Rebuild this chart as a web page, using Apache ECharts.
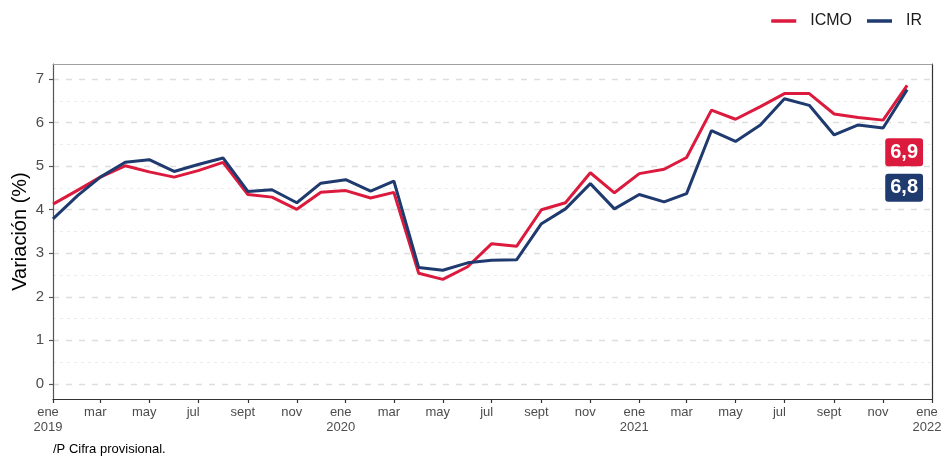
<!DOCTYPE html>
<html><head><meta charset="utf-8">
<script src="https://cdn.jsdelivr.net/npm/echarts@6/dist/echarts.min.js"></script>
<style>html,body{margin:0;padding:0;background:#fff}#c{width:943px;height:458px}</style>
</head><body><div id="c"></div>
<script>
const months = [
  '2019-01','2019-02','2019-03','2019-04','2019-05','2019-06','2019-07','2019-08','2019-09','2019-10','2019-11','2019-12',
  '2020-01','2020-02','2020-03','2020-04','2020-05','2020-06','2020-07','2020-08','2020-09','2020-10','2020-11','2020-12',
  '2021-01','2021-02','2021-03','2021-04','2021-05','2021-06','2021-07','2021-08','2021-09','2021-10','2021-11','2021-12'
];
const icmo = [
  4.13, 4.45, 4.75, 5.01, 4.87, 4.75, 4.90, 5.09, 4.35, 4.29, 4.01, 4.40,
  4.44, 4.27, 4.40, 2.54, 2.40, 2.69, 3.22, 3.16, 4.00, 4.16, 4.85, 4.39,
  4.83, 4.93, 5.20, 6.29, 6.08, 6.37, 6.67, 6.67, 6.20, 6.12, 6.06, 6.86
];
const ir = [
  3.79, 4.33, 4.75, 5.09, 5.15, 4.88, 5.04, 5.19, 4.42, 4.46, 4.16, 4.61,
  4.69, 4.43, 4.66, 2.67, 2.61, 2.78, 2.84, 2.85, 3.68, 4.02, 4.60, 4.02,
  4.35, 4.18, 4.37, 5.82, 5.57, 5.95, 6.55, 6.40, 5.72, 5.95, 5.88, 6.76
];
const yTicks = [0, 1, 2, 3, 4, 5, 6, 7];
const yMinorTicks = [0.5, 1.5, 2.5, 3.5, 4.5, 5.5, 6.5];
const xTickMonths = ['2019-01','2019-03','2019-05','2019-07','2019-09','2019-11',
  '2020-01','2020-03','2020-05','2020-07','2020-09','2020-11',
  '2021-01','2021-03','2021-05','2021-07','2021-09','2021-11','2022-01'];
const monthNames = ['ene','feb','mar','abr','may','jun','jul','ago','sept','oct','nov','dic'];
const seriesNames = ['ICMO', 'IR'];
const caption = '/P Cifra provisional.';

const RED = '#dc1a3d', BLUE = '#1f3a6e';
const FONT = 'Liberation Sans, Arial, sans-serif';
function ts(s) { const p = s.split('-').map(Number); return Date.UTC(p[0], p[1] - 1, 1); }
const xTicks = xTickMonths.map(ts);
const xMin = xTicks[0], xMax = xTicks[xTicks.length - 1];
function fmtNum(v) { return v.toFixed(1).replace('.', ','); }
function pairs(vals) { return months.map((m, i) => [ts(m), vals[i]]); }

function lastMark(vals, color, offY) {
  const i = vals.length - 1;
  return {
    symbol: 'rect', symbolSize: 1, itemStyle: { color: 'rgba(0,0,0,0)' },
    data: [{ coord: [ts(months[i]), vals[i]], value: vals[i] }],
    label: {
      show: true, position: 'inside', offset: [-3, offY],
      formatter: p => fmtNum(p.value),
      backgroundColor: color, borderRadius: 3, padding: [4, 5, 3, 5],
      color: '#fff', fontSize: 20, fontWeight: 'bold', fontFamily: FONT, lineHeight: 21
    }
  };
}

const chart = echarts.init(document.getElementById('c'), null, { renderer: 'canvas' });
chart.setOption({
  animation: false,
  backgroundColor: '#fff',
  textStyle: { fontFamily: FONT },
  grid: { left: 53, right: 11, top: 64, bottom: 59, containLabel: false, outerBoundsMode: 'none' },
  legend: {
    data: seriesNames, right: 16, top: 8, icon: 'rect', itemWidth: 25, itemHeight: 3.5, itemGap: 15,
    textStyle: { fontSize: 16, color: '#1a1a1a', fontFamily: FONT, padding: [0, 0, 0, 9] }
  },
  xAxis: [{
    type: 'value', min: xMin, max: xMax,
    axisLine: { show: true, onZero: false, lineStyle: { color: '#333', width: 1.2 } },
    axisTick: { show: true, customValues: xTicks, length: 4, lineStyle: { color: '#333', width: 1.2 } },
    axisLabel: {
      customValues: xTicks, color: '#4d4d4d', fontSize: 13, lineHeight: 15, margin: 6,
      padding: [0, 10, 0, 0],
      showMinLabel: true, showMaxLabel: true, fontFamily: FONT,
      formatter: v => { const d = new Date(v); const m = d.getUTCMonth();
        return m === 0 ? monthNames[m] + '\n' + d.getUTCFullYear() : monthNames[m]; }
    },
    splitLine: { show: false }
  }, {
    type: 'value', min: xMin, max: xMax, position: 'top',
    axisLine: { show: true, onZero: false, lineStyle: { color: '#a0a0a0', width: 1.2 } },
    axisTick: { show: false }, axisLabel: { show: false }, splitLine: { show: false }
  }],
  yAxis: [{
    type: 'value', min: -0.35, max: 7.35,
    name: 'Variación (%)', nameLocation: 'middle', nameGap: 23, nameMoveOverlap: false,
    nameTextStyle: { fontSize: 20, color: '#000', fontFamily: FONT },
    axisLine: { show: true, onZero: false, lineStyle: { color: '#555', width: 1.2 } },
    axisTick: { show: true, customValues: yTicks, length: 4, lineStyle: { color: '#555', width: 1.2 } },
    axisLabel: { customValues: yTicks, color: '#4d4d4d', fontSize: 15, margin: 9, fontFamily: FONT },
    splitLine: { show: true, lineStyle: { color: '#dedede', width: 1.3, type: [6, 7] } }
  }, {
    type: 'value', min: -0.35, max: 7.35, position: 'left',
    axisLine: { show: false, onZero: false },
    axisTick: { show: false, customValues: yMinorTicks },
    axisLabel: { show: false, customValues: yMinorTicks },
    splitLine: { show: true, lineStyle: { color: '#ececec', width: 1, type: [3, 4] } }
  }, {
    type: 'value', min: -0.35, max: 7.35, position: 'right',
    axisLine: { show: true, onZero: false, lineStyle: { color: '#333', width: 1.2 } },
    axisTick: { show: false }, axisLabel: { show: false }, splitLine: { show: false }
  }],
  series: [{
    name: seriesNames[0], type: 'line', data: pairs(icmo), showSymbol: false, symbol: 'none',
    lineStyle: { color: RED, width: 3 }, itemStyle: { color: RED }, z: 3,
    markPoint: lastMark(icmo, RED, 67)
  }, {
    name: seriesNames[1], type: 'line', data: pairs(ir), showSymbol: false, symbol: 'none',
    lineStyle: { color: BLUE, width: 3 }, itemStyle: { color: BLUE }, z: 4,
    markPoint: lastMark(ir, BLUE, 98)
  }],
  graphic: [{
    type: 'text', left: 53, top: 443,
    style: { text: caption, fontSize: 13, fill: '#000', fontFamily: FONT }
  }]
});
</script>
</body></html>
